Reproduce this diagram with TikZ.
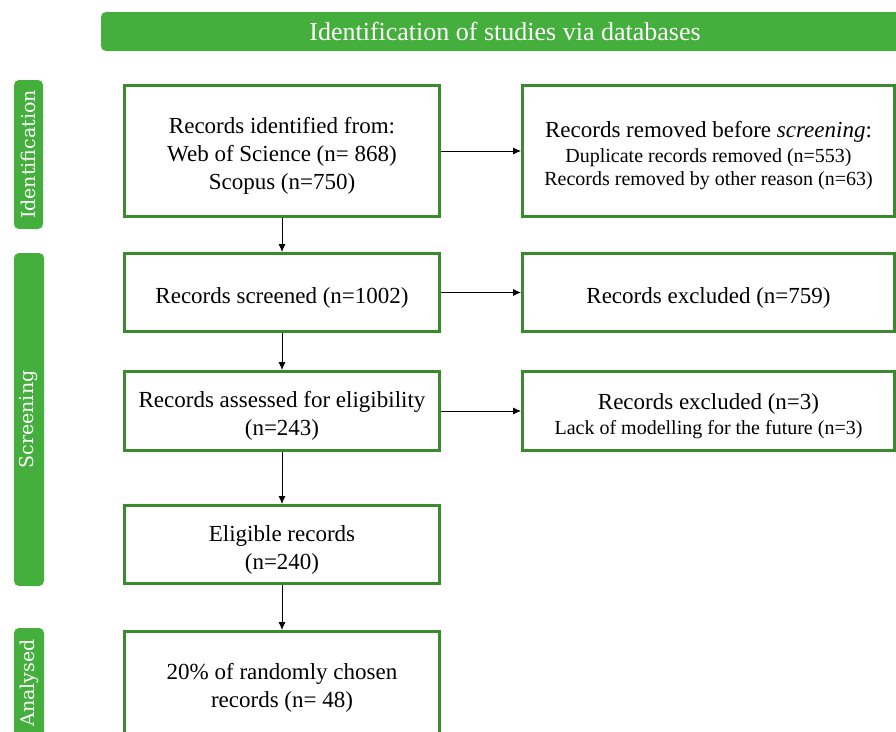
\documentclass[tikz,border=0pt]{standalone}
\usepackage{fontspec}
\setmainfont{Liberation Serif}
\newfontfamily\labfont{DejaVu Serif}
\usetikzlibrary{arrows.meta}
\definecolor{bannergreen}{RGB}{69,175,61}
\definecolor{boxgreen}{RGB}{58,138,46}
\newcommand\tstrut{\rule{0pt}{26pt}}
\begin{document}
\begin{tikzpicture}[x=1pt,y=-1pt,
  flowbox/.style={draw=boxgreen, line width=3pt, fill=white, inner sep=2pt,
    align=center, font=\fontsize{23}{28}\selectfont},
  leftbox/.style={flowbox, minimum width=315pt},
  rightbox/.style={flowbox, minimum width=372pt},
  sidelabel/.style={fill=bannergreen, rounded corners=5pt, rotate=90,
    text=white, inner sep=0pt, font=\labfont\fontsize{19}{22}\selectfont},
  banner/.style={fill=bannergreen, rounded corners=5pt, text=white, inner sep=0pt,
    font=\fontsize{26}{28}\selectfont},
  flowarrow/.style={-{Latex[length=8pt,width=7pt]}, line width=0.8pt, black}
]
\clip (0,0) rectangle (896,731);
\fill[white] (0,0) rectangle (896,731);

% banner
\node[banner, minimum width=808pt, minimum height=39pt] (ban) at (505,31.5) {Identification of studies via databases};

% side labels
\node[sidelabel, minimum width=149pt, minimum height=29pt] (lid) at (28.5,154.5) {Identification};
\node[sidelabel, minimum width=333pt, minimum height=30pt] (lsc) at (29,419.5) {Screening};
\node[sidelabel, minimum width=110pt, minimum height=30pt] (lan) at (29,683) {Analysed};

% boxes
\node[leftbox, minimum height=131pt] (b1) at (282,151)
  {\tstrut Records identified from:\\Web of Science (n= 868)\\Scopus (n=750)};
\node[rightbox, minimum height=131pt] (b2) at (708.5,151)
  {\tstrut Records removed before \textit{screening}:\\[-3pt]
   {\fontsize{20}{23}\selectfont Duplicate records removed (n=553)}\\[-5pt]
   {\fontsize{20}{23}\selectfont Records removed by other reason (n=63)}};
\node[leftbox, minimum height=78pt] (b3) at (282,292.5) {\tstrut Records screened (n=1002)};
\node[rightbox, minimum height=78pt] (b4) at (708.5,292.5) {\tstrut Records excluded (n=759)};
\node[leftbox, minimum height=79pt] (b5) at (282,411) {\tstrut Records assessed for eligibility\\(n=243)};
\node[rightbox, minimum height=79pt] (b6) at (708.5,411)
  {\tstrut Records excluded (n=3)\\[-3pt]
   {\fontsize{20}{23}\selectfont Lack of modelling for the future (n=3)}};
\node[leftbox, minimum height=78pt] (b7) at (282,544.5) {\tstrut Eligible records\\(n=240)};
\node[leftbox, minimum height=103pt] (b8) at (282,683) {\tstrut 20\% of randomly chosen\\records (n= 48)};

% arrows
\draw[flowarrow] (b1) -- (b3);
\draw[flowarrow] (b3) -- (b5);
\draw[flowarrow] (b5) -- (b7);
\draw[flowarrow] (b7) -- (b8);
\draw[flowarrow] (b1) -- (b2);
\draw[flowarrow] (b3) -- (b4);
\draw[flowarrow] (b5) -- (b6);
\end{tikzpicture}
\end{document}
